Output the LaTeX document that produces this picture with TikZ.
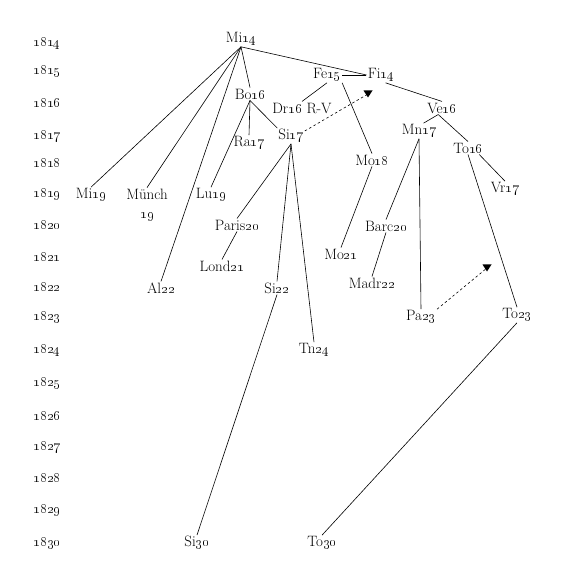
\documentclass[tikz,border=0pt]{standalone}
\begin{document}
\begin{tikzpicture}[x=1pt,y=-1pt,line width=0.6pt,
    every node/.style={font=\fontsize{15}{19}\selectfont,inner sep=1pt},
    lnk/.style={dash pattern=on 2.5pt off 2.5pt}]
  \useasboundingbox (0,0) rectangle (579,575);
  % years
  \foreach \yr/\yy in {1814/43,1815/71,1816/103,1817/136,1818/163,1819/194,1820/225,1821/257,1822/287,1823/317,1824/350,1825/383,1826/416,1827/447,1828/478,1829/510,1830/543}
    \node[anchor=west] (y\yr) at (32,\yy) {\oldstylenums{\yr}};
  % places
  \node (Mi14) at (241,39) {Mi\oldstylenums{14}};
  \node (Fe15) at (327,75) {Fe\oldstylenums{15}};
  \node (Fi14) at (381,75) {Fi\oldstylenums{14}};
  \node (Bo16) at (250,94) {Bo\oldstylenums{16}};
  \node (Dr16) at (302,108) {Dr\oldstylenums{16} R-V};
  \node (Ve16) at (442,108) {Ve\oldstylenums{16}};
  \node (Mn17) at (419,131) {Mn\oldstylenums{17}};
  \node (Si17) at (291,136) {Si\oldstylenums{17}};
  \node (Ra17) at (249,143) {Ra\oldstylenums{17}};
  \node (To16) at (468,148) {To\oldstylenums{16}};
  \node (Mo18) at (372,160) {Mo\oldstylenums{18}};
  \node (Vr17) at (505,189) {Vr\oldstylenums{17}};
  \node (Mi19) at (91,195) {Mi\oldstylenums{19}};
  \node[align=center] (Mu19) at (147,205) {Münch\\\oldstylenums{19}};
  \node (Lu19) at (211,195) {Lu\oldstylenums{19}};
  \node (Pa20) at (237,225) {Paris\oldstylenums{20}};
  \node (Ba20) at (386,226) {Barc\oldstylenums{20}};
  \node (Lo21) at (222,266) {Lond\oldstylenums{21}};
  \node (Mo21) at (341,254) {Mo\oldstylenums{21}};
  \node (Al22) at (161,288) {Al\oldstylenums{22}};
  \node (Si22) at (277,288) {Si\oldstylenums{22}};
  \node (Md22) at (372,283) {Madr\oldstylenums{22}};
  \node (Pa23) at (421,317) {Pa\oldstylenums{23}};
  \node (To23) at (517,315) {To\oldstylenums{23}};
  \node (Tn24) at (314,350) {Tn\oldstylenums{24}};
  \node (Si30) at (197,543) {Si\oldstylenums{30}};
  \node (To30) at (322,543) {To\oldstylenums{30}};
  % lines
  \draw (Mi14.south) -- (Fi14.west);
  \draw (Mi14.south) -- (Mi19.north);
  \draw (Mi14.south) -- (Mu19.north);
  \draw (Mi14.south) -- (Al22.north);
  \draw (Mi14.south) -- (Bo16.north);
  \draw (Fe15.east) -- (Fi14.west);
  \draw (Fe15.south) -- (Dr16.north);
  \draw (Fe15.south east) -- (Mo18.north);
  \draw (Fi14.-60) -- (Ve16.north);
  \draw (Ve16.-120) -- (Mn17.60);
  \draw (Ve16.-120) -- (To16.north);
  \draw (Bo16.south) -- (Lu19.north);
  \draw (Bo16.south) -- (Ra17.north);
  \draw (Bo16.south) -- (Si17.150);
  \draw (Si17.south) -- (Pa20.north);
  \draw (Si17.south) -- (Si22.north);
  \draw (Si17.south) -- (Tn24.north);
  \draw (Pa20.south) -- (Lo21.north);
  \draw (Si22.south) -- (Si30.north);
  \draw (Mo18.south) -- (Mo21.north);
  \draw (Mn17.south) -- (Ba20.north);
  \draw (Mn17.south) -- (Pa23.north);
  \draw (Ba20.south) -- (Md22.north);
  \draw (To16.-30) -- (Vr17.north);
  \draw (To16.south) -- (To23.north);
  \draw (To23.south) -- (To30.north);
  % dashed links
  \coordinate (tipA) at (368,94);
  \coordinate (tipB) at (487,268);
  \draw[lnk] (Si17.20) -- (tipA);
  \draw[lnk] (Pa23.north east) -- (tipB);
  \fill (tipA) ++(-4.5,-3.5) -- ++(9,0) -- ++(-4.5,7) -- cycle;
  \fill (tipB) ++(-4.5,-3.5) -- ++(9,0) -- ++(-4.5,7) -- cycle;
\end{tikzpicture}
\end{document}
